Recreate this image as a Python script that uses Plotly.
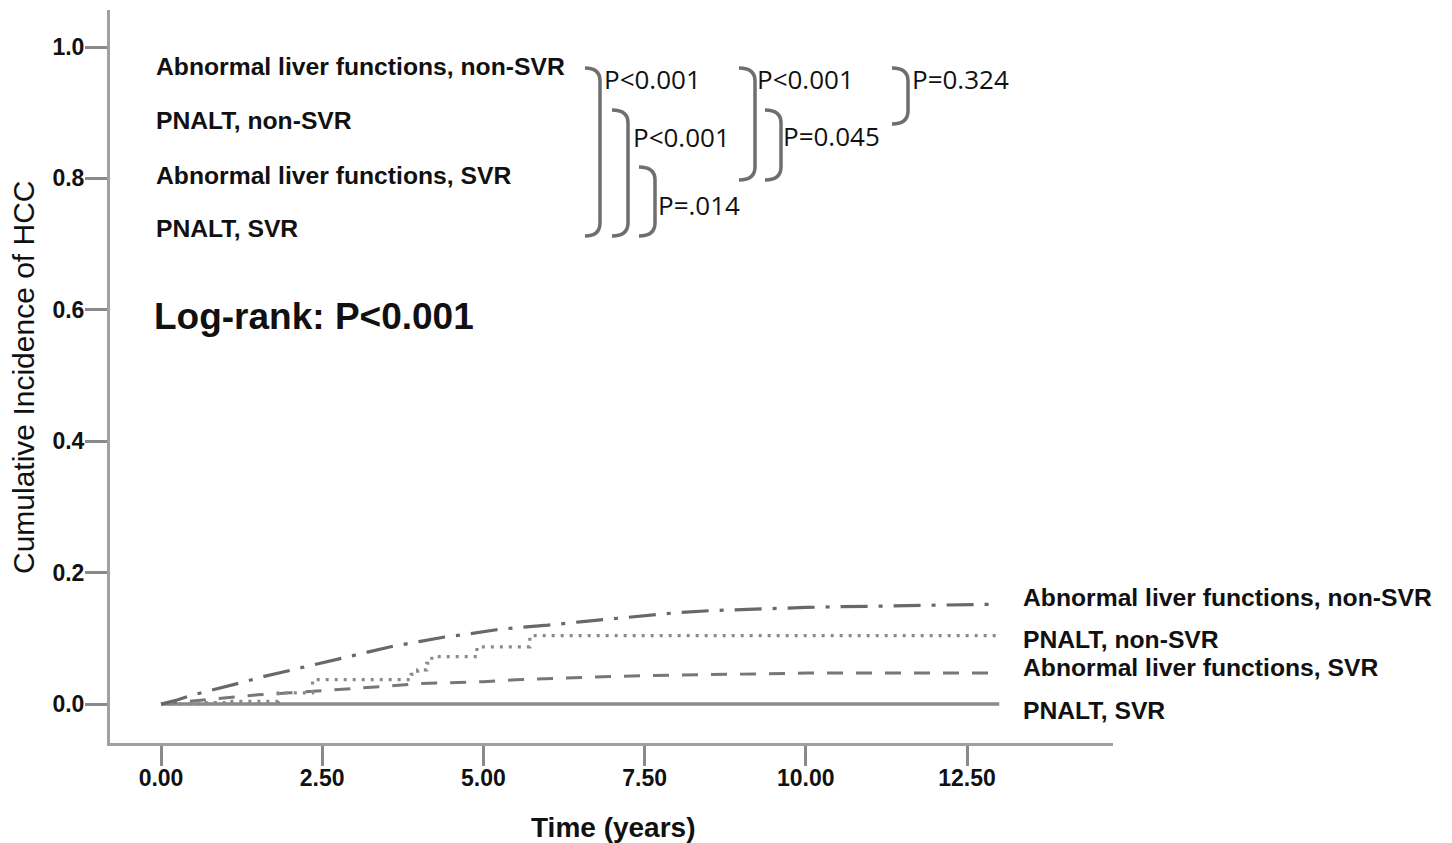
import plotly.graph_objects as go

# ---------------- data ----------------
t_abn_nonsvr = [0, 0.25, 0.5, 0.75, 1.0, 1.3, 1.6, 2.0, 2.4, 2.8, 3.2, 3.6, 4.0, 4.4,
                4.8, 5.2, 5.6, 6.0, 6.5, 7.0, 7.5, 8.0, 8.5, 9.0, 9.5, 10.0, 10.5,
                11.0, 11.5, 12.0, 12.5, 13.0]
v_abn_nonsvr = [0, 0.006, 0.014, 0.020, 0.026, 0.034, 0.042, 0.051, 0.060, 0.069,
                0.078, 0.088, 0.095, 0.102, 0.107, 0.113, 0.117, 0.120, 0.125, 0.130,
                0.135, 0.139, 0.142, 0.144, 0.146, 0.147, 0.148, 0.149, 0.150, 0.151,
                0.152, 0.152]

t_pnalt_nonsvr = [0, 0.6, 1.0, 1.82, 2.35, 3.88, 3.98, 4.12, 4.2, 4.9, 5.72, 13.0]
v_pnalt_nonsvr = [0, 0.002, 0.004, 0.017, 0.037, 0.045, 0.052, 0.062, 0.072, 0.087,
                  0.104, 0.104]

t_abn_svr = [0, 0.5, 1.0, 1.5, 2.0, 2.5, 3.0, 3.5, 4.0, 4.5, 5.0, 5.5, 6.0, 7.0, 8.0,
             9.0, 10.0, 11.0, 12.0, 13.0]
v_abn_svr = [0, 0.005, 0.010, 0.014, 0.017, 0.020, 0.023, 0.027, 0.031, 0.032, 0.034,
             0.037, 0.039, 0.042, 0.044, 0.046, 0.047, 0.047, 0.047, 0.047]

t_pnalt_svr = [0, 13.0]
v_pnalt_svr = [0, 0]

group_names = ["Abnormal liver functions, non-SVR", "PNALT, non-SVR",
               "Abnormal liver functions, SVR", "PNALT, SVR"]

x_tickvals = [0, 2.5, 5.0, 7.5, 10.0, 12.5]
x_ticktext = ["0.00", "2.50", "5.00", "7.50", "10.00", "12.50"]
y_tickvals = [0, 0.2, 0.4, 0.6, 0.8, 1.0]
y_ticktext = ["0.0", "0.2", "0.4", "0.6", "0.8", "1.0"]

pairwise_p = ["P&lt;0.001", "P&lt;0.001", "P=.014", "P&lt;0.001", "P=0.045", "P=0.324"]
logrank_text = "Log-rank: P&lt;0.001"

# ---------------- layout geometry (screen pixels) ----------------
OFF = 8                      # page body margin in the browser
W, H = 1452 - OFF, 843 - OFF
L, R, T, B = 110, 1113, 10, 743  # plot area edges on screen


def px(x):
    return (x - L) / (R - L)


def py(y):
    return (B - y) / (B - T)


fig = go.Figure()
fig.add_trace(go.Scatter(x=t_pnalt_svr, y=v_pnalt_svr, mode="lines",
                         line=dict(color="#8a8a8a", width=3.5), name=group_names[3]))
fig.add_trace(go.Scatter(x=t_abn_svr, y=v_abn_svr, mode="lines",
                         line=dict(color="#777777", width=3, dash="16px,13px"),
                         name=group_names[2]))
fig.add_trace(go.Scatter(x=t_pnalt_nonsvr, y=v_pnalt_nonsvr, mode="lines",
                         line=dict(color="#8a8a8a", width=3.2, dash="3px,6px", shape="hv"),
                         name=group_names[1]))
fig.add_trace(go.Scatter(x=t_abn_nonsvr, y=v_abn_nonsvr, mode="lines",
                         line=dict(color="#686868", width=3.2, dash="27px,11px,4px,11px"),
                         name=group_names[0]))

annotations = []
bold_font = dict(family="Liberation Sans, Arial, sans-serif", size=24.7, color="#111111",
                 weight="bold")
# left legend block
for name, yy in zip(group_names, [67, 120, 175, 228]):
    annotations.append(dict(x=px(154), y=py(yy), xref="paper", yref="paper", text=name,
                            showarrow=False, xanchor="left", yanchor="middle",
                            font=bold_font))
annotations.append(dict(x=px(152), y=py(316), xref="paper", yref="paper",
                        text=logrank_text, showarrow=False, xanchor="left",
                        yanchor="middle",
                        font=dict(family="Liberation Sans, Arial, sans-serif", size=37,
                                  color="#111111", weight="bold")))
# right end labels
for name, yy in zip(group_names, [597, 639, 667, 710]):
    annotations.append(dict(x=px(1021), y=py(yy), xref="paper", yref="paper", text=name,
                            showarrow=False, xanchor="left", yanchor="middle",
                            font=bold_font))
# pairwise p-values
p_pos = [(602, 79), (631, 137), (656, 205), (755, 79), (781, 136), (910, 79)]
for txt, (xx, yy) in zip(pairwise_p, p_pos):
    annotations.append(dict(x=px(xx), y=py(yy), xref="paper", yref="paper", text=txt,
                            showarrow=False, xanchor="left", yanchor="middle",
                            font=dict(family="Open Sans, Noto Sans, sans-serif", size=26,
                                      color="#111111")))
# axis titles
annotations.append(dict(x=px(613), y=py(827), xref="paper", yref="paper",
                        text="Time (years)", showarrow=False, xanchor="center",
                        yanchor="middle",
                        font=dict(family="Liberation Sans, Arial, sans-serif", size=28,
                                  color="#111111", weight="bold")))
annotations.append(dict(x=px(23), y=py(377), xref="paper", yref="paper",
                        text="Cumulative Incidence of HCC", showarrow=False,
                        textangle=-90, xanchor="center", yanchor="middle",
                        font=dict(family="Liberation Sans, Arial, sans-serif", size=30,
                                  color="#111111")))

# brackets: (left x, vertical x, top y, bottom y) in screen pixels
brackets = [(585, 600, 68, 236), (612, 628, 110, 236), (639, 655, 167, 236),
            (739, 755, 68, 180), (765, 781, 110, 180), (892, 908, 68, 124)]
shapes = []
for xl, xv, yt, yb in brackets:
    r = 13
    path = (f"M {px(xl)},{py(yt)} Q {px(xv)},{py(yt)} {px(xv)},{py(yt + r)} "
            f"L {px(xv)},{py(yb - r)} Q {px(xv)},{py(yb)} {px(xl)},{py(yb)}")
    shapes.append(dict(type="path", path=path, xref="paper", yref="paper",
                       line=dict(color="#6f6f6f", width=3.5)))

x0 = 161
unit = (967 - 161) / 12.5
xr = [(L - x0) / unit, (R - x0) / unit]
yr = [(704 - B) / 657, (704 - T) / 657]

tickfont = dict(family="Liberation Sans, Arial, sans-serif", size=23, color="#111111",
                weight="bold")
fig.update_layout(
    width=W, height=H,
    margin=dict(l=L - OFF, r=1452 - R, t=T - OFF, b=843 - B, pad=0),
    paper_bgcolor="white", plot_bgcolor="white",
    showlegend=False,
    annotations=annotations,
    shapes=shapes,
    xaxis=dict(range=xr, tickvals=x_tickvals, ticktext=x_ticktext, showgrid=False,
               zeroline=False, showline=True, linecolor="#a0a0a0", linewidth=3,
               ticks="outside", ticklen=20, tickwidth=2.5, tickcolor="#8a8a8a",
               tickfont=tickfont, ticklabelstandoff=-8),
    yaxis=dict(range=yr, tickvals=y_tickvals, ticktext=y_ticktext, showgrid=False,
               zeroline=False, showline=True, linecolor="#a0a0a0", linewidth=3,
               ticks="outside", ticklen=22, tickwidth=2.5, tickcolor="#8a8a8a",
               tickfont=tickfont, ticklabelstandoff=-4),
)

fig.write_html("out.html")
